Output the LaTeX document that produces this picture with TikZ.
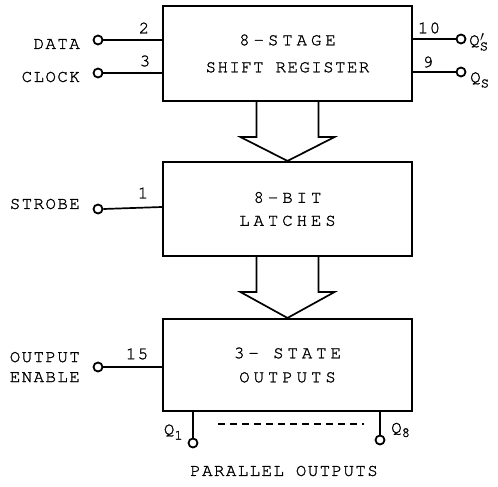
\documentclass[tikz,border=0pt]{standalone}
\usepackage{fontspec}
\usetikzlibrary{calc}
\newfontfamily\labfam{texgyrecursor-regular}[Extension=.otf,LetterSpace=8,FakeBold=1.3]
\newfontfamily\widefam{texgyrecursor-regular}[Extension=.otf,LetterSpace=22,FakeBold=1.3]
\newfontfamily\plainfam{texgyrecursor-regular}[Extension=.otf,FakeBold=1.3]
\newcommand\lblfont{\labfam\fontsize{17.5}{19}\selectfont}
\newcommand\boxfont{\widefam\fontsize{17.5}{19}\selectfont}
\newcommand\subfont{\plainfam\fontsize{14}{14}\selectfont}
\begin{document}
\begin{tikzpicture}[x=1pt,y=-1pt,
  box/.style={draw,line width=2.1pt,minimum width=249pt,font=\boxfont,align=center,inner sep=0pt},
  wire/.style={line width=1.7pt},
  pin/.style={circle,draw,line width=1.8pt,minimum size=9pt,inner sep=0pt,fill=white},
  lab/.style={font=\lblfont,inner sep=0pt}]
\useasboundingbox (0,0) rectangle (498,487);
% boxes
\node[box,minimum height=95pt] (sr) at (287.5,53.5) {8-STAGE\\[8pt]{\lblfont SHIFT REGISTER}};
\node[box,minimum height=94pt] (lt) at (287.5,209) {8-BIT\\[4pt]LATCHES};
\node[box,minimum height=92pt] (ot) at (287.5,365) {3- STATE\\[5pt]OUTPUTS};
% wide arrows
\draw[wire,line join=miter] ($(sr.south)+(-31,0)$) -- ++(0,35) -- ++(-16,0) -- (lt.north)
  -- ($(sr.south)+(47,35)$) -- ++(-16,0) -- ($(sr.south)+(31,0)$);
\draw[wire,line join=miter] ($(lt.south)+(-31,0)$) -- ++(0,35) -- ++(-16,0) -- (ot.north)
  -- ($(lt.south)+(47,35)$) -- ++(-16,0) -- ($(lt.south)+(31,0)$);
% left pins
\node[pin] (pdata) at (98,40) {};
\node[pin] (pclock) at (98,73) {};
\node[pin] (pstrobe) at (98,209) {};
\node[pin] (poe) at (98,367) {};
\draw[wire] (pdata.east) -- (sr.west |- pdata);
\draw[wire] (pclock.east) -- (sr.west |- pclock);
\draw[wire] (pstrobe.east) -- ($(lt.west |- pstrobe)+(0,-2)$);
\draw[wire] (poe.east) -- (ot.west |- poe);
\node[lab,anchor=east] (ldata) at (80,44) {DATA};
\node[lab,anchor=east] (lclock) at (80,77) {CLOCK};
\node[lab,anchor=east] (lstrobe) at (80,204) {STROBE};
\node[lab,anchor=east,align=right] (loe) at (80,367) {OUTPUT\\[1pt]ENABLE};
\node[lab] (n2) at (144,28) {2};
\node[lab] (n3) at (145,61) {3};
\node[lab] (n1) at (143,193) {1};
\node[lab] (n15) at (137,354) {15};
% right pins
\node[pin] (pqsn) at (461,39) {};
\node[pin] (pqs) at (461,72) {};
\draw[wire] (sr.east |- pqsn) -- (pqsn.west);
\draw[wire] (sr.east |- pqs) -- (pqs.west);
\node[lab] (n10) at (429,28) {10};
\node[lab] (n9) at (428,62) {9};
\node[lab,anchor=west] (lqsn) at (469,42) {Q\raisebox{-5pt}{\subfont\rlap{\raisebox{9pt}{\hspace{0.5pt}$\prime$}}S}};
\node[lab,anchor=west] (lqs) at (470,80) {Q\raisebox{-5pt}{\subfont S}};
% bottom outputs
\node[pin] (pq1) at (193,443) {};
\node[pin] (pq8) at (380,440) {};
\draw[wire] (pq1.north) -- (pq1 |- ot.south);
\draw[wire] (pq8.north) -- (pq8 |- ot.south);
\coordinate (d1) at (218,424);
\coordinate (d2) at (364,424);
\draw[wire,dash pattern=on 7pt off 5pt] (d1) -- (d2);
\node[lab,anchor=east] (lq1) at (183,432) {Q\raisebox{-5pt}{\subfont 1}};
\node[lab,anchor=west] (lq8) at (391,430) {Q\raisebox{-4pt}{\subfont 8}};
\node[lab] (lpar) at (284,471) {PARALLEL OUTPUTS};
\end{tikzpicture}
\end{document}
